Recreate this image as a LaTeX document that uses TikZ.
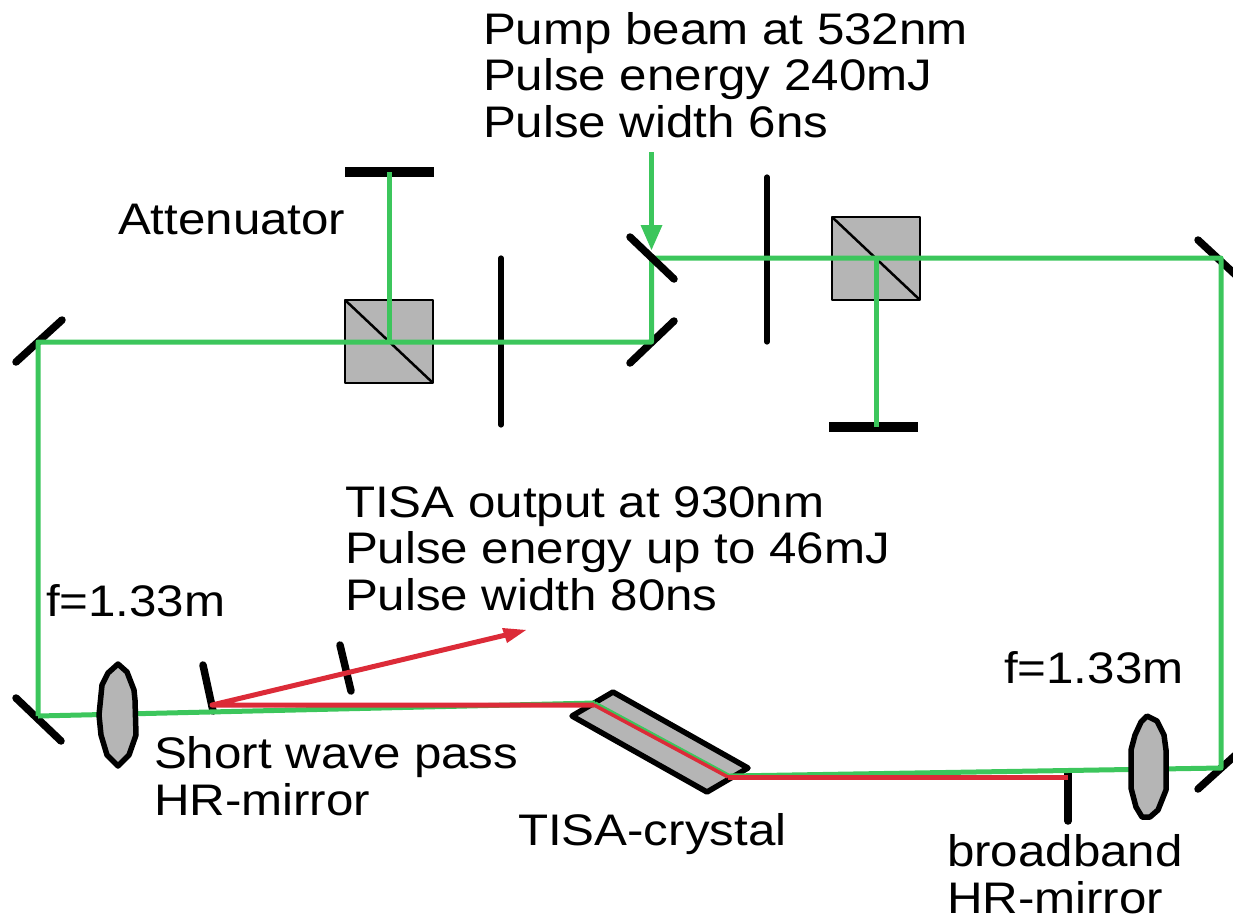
\documentclass[tikz,border=0pt]{standalone}
\usepackage{fontspec}
\setmainfont[FakeStretch=1.115]{Liberation Sans}
\definecolor{beamgreen}{HTML}{3CC65C}
\definecolor{beamred}{HTML}{DC2B38}
\definecolor{partgray}{HTML}{B5B5B5}
\tikzset{
  x=1pt,y=-1pt,
  mirror/.style={draw=black,line width=7.5pt,line cap=round},
  thinplate/.style={draw=black,line width=5.2pt,line cap=round},
  dump/.style={draw=black,line width=10pt},
  cube/.style={draw=black,fill=partgray,line width=2.5pt,line join=round},
  diag/.style={draw=black,line width=2.5pt},
  lens/.style={draw=black,fill=partgray,line width=5.5pt,line join=round},
  crystal/.style={draw=black,fill=partgray,line width=5.5pt,line join=round},
  green beam/.style={draw=beamgreen,line width=5pt,line join=round},
  red beam/.style={draw=beamred,line width=5pt,line join=round},
  label/.style={anchor=base west,inner sep=0pt,outer sep=0pt,align=left,font=\fontsize{44.2}{46.5}\selectfont},
}
\begin{document}
\begin{tikzpicture}
\useasboundingbox (0,0) rectangle (1233,918);
\clip (0,0) rectangle (1233,918);
% beam points
\coordinate (TL) at (38,342);
\coordinate (BL) at (38,716);
\coordinate (M1) at (651.5,342);
\coordinate (M2) at (651.5,258);
\coordinate (TR) at (1221,258);
\coordinate (BR) at (1221,768);
\coordinate (CrR) at (730,776);
\coordinate (CrL) at (595,703);
\coordinate (CrRr) at (728,777);
\coordinate (CrLr) at (594,705);
\coordinate (BB) at (1068,777);
\coordinate (SW) at (212,705);
\coordinate (OUT) at (512,633.5);
\coordinate (PS) at (651.5,152);
\coordinate (PT) at (651.5,250);
\coordinate (D1) at (389,172);
\coordinate (C1) at (389,342);
\coordinate (D2) at (876,427);
\coordinate (C2) at (876,258);
% black optics below the beams
\draw[mirror] (16,362) -- (62,320);
\draw[mirror] (16,698) -- (61,741);
\draw[mirror] (630,363) -- (674,321);
\draw[mirror] (1198,240) -- (1240,279);
\draw[mirror] (1198,789) -- (1240,751);
\draw[mirror] (203,665) -- (213,711);
\draw[mirror] (340,645) -- (351,691);
\draw[mirror] (1068,772) -- (1068,821);
\draw[thinplate] (501,258) -- (501,425);
\draw[thinplate] (767,177) -- (767,342);
\draw[dump] (345,172) -- (434,172);
\draw[dump] (829,427) -- (918,427);
% cubes
\draw[cube] (345,300) rectangle (433,383);
\draw[diag] (345,300) -- (433,383);
\draw[cube] (832,217) rectangle (920,300);
\draw[diag] (832,217) -- (920,300);
% crystal
\draw[crystal] (613,692) -- (748,768) -- (707,792) -- (572,716) -- cycle;
% green beams
\draw[green beam] (BL) -- (TL) -- (M1) -- (M2) -- (TR) -- (BR) -- (CrR);
\draw[green beam] (CrL) -- (BL);
\draw[draw=beamgreen,line width=3.5pt] (CrR) -- (CrL);
\draw[green beam] (C1) -- (D1);
\draw[green beam] (C2) -- (D2);
% red beams
\draw[red beam] (BB) -- (CrRr);
\draw[draw=beamred,line width=3.5pt] (CrRr) -- (CrLr);
\draw[red beam] (CrLr) -- (SW) -- (OUT);
\fill[beamred] (526,630) -- (502,628) -- (507,643) -- cycle;
% pieces over the beams
\draw[mirror] (630,237) -- (674,279);
\draw[green beam] (PS) -- (651.5,228);
\fill[beamgreen] (PT) -- (640.5,225) -- (662.5,225) -- cycle;
\draw[lens] (118,664) -- (127,672) -- (134,690) -- (135,700) -- (136,735) -- (129,755) -- (118,766) -- (107,755) -- (101,735) -- (99,715) -- (102,685) -- (108,673) -- cycle;
\draw[lens] (1147,716) -- (1157,721) -- (1164,735) -- (1166,750) -- (1166,790) -- (1158,810) -- (1150,817) -- (1142,817) -- (1136,807) -- (1131,788) -- (1131,750) -- (1135,735) -- (1141,722) -- cycle;
% labels
\node[label] (pump) at (483,137) {Pump beam at 532nm\\Pulse energy 240mJ\\Pulse width 6ns};
\node[label] (att) at (118,234) {Attenuator};
\node[label] (tisa) at (345,610) {TISA output at 930nm\\Pulse energy up to 46mJ\\Pulse width 80ns};
\node[label] (fl) at (46,616) {f=1.33m};
\node[label] (fr) at (1004,683) {f=1.33m};
\node[label] (swp) at (154,815) {Short wave pass\\HR-mirror};
\node[label] (crys) at (518,845) {TISA-crystal};
\node[label] (bbm) at (947,913) {broadband\\HR-mirror};
\end{tikzpicture}
\end{document}
